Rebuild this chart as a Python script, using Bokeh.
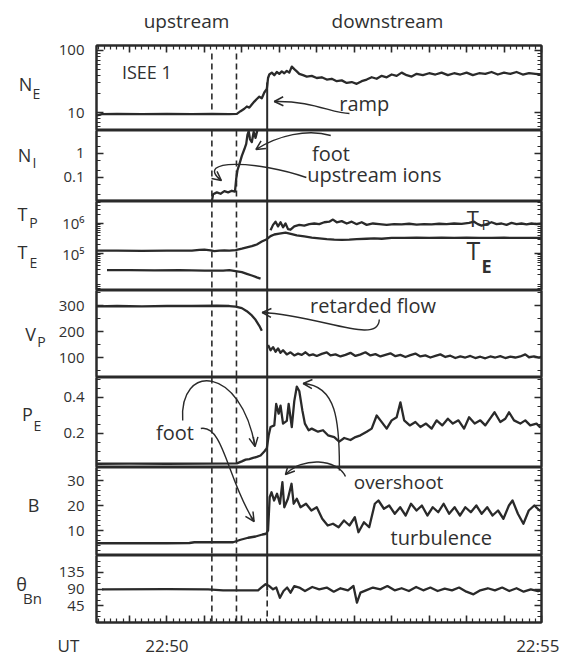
import math
from bokeh.plotting import figure
from bokeh.layouts import column, row
from bokeh.models import Range1d, FixedTicker, LinearAxis, LogAxis, Span, Label, Arrow, OpenHead
from bokeh.embed import file_html
from bokeh.resources import INLINE

FONT = "Open Sans"
INK = "#2a2a2a"
TXT = "#303030"

# ---------------- time axis (seconds after 22:50:00 UT) ----------------
T_START, T_END = -56.4, 300.0
X_MAJOR = list(range(-30, 301, 30))
X_MINOR = [t for t in range(-55, 301, 5) if t % 30 != 0]
X_TICK_LABELS = [(0, "22:50"), (300, "22:55")]
REGION_LABELS = ["upstream", "downstream"]
FOOT_EDGES = [36.0, 55.7]     # dashed lines
RAMP_TIME = 80.3              # solid line

# ---------------- data (time [s], value) ----------------
NE = [(-56, 9.0), (-52, 9.4), (-40, 9.5), (-20, 9.4), (0, 9.5), (20, 9.4), (36, 9.5), (50, 9.4),
      (56, 9.5), (59, 10.5), (62, 11.5), (64, 12.5), (66, 12.0), (68, 13.5), (70, 15.0), (72, 16.5),
      (74, 18.0), (76, 17.0), (78, 21.0), (80, 24.0), (81, 36.0), (82, 41.0), (84, 44.0), (86, 40.0),
      (88, 45.0), (90, 42.0), (92, 46.0), (94, 43.0), (96, 47.0), (98, 44.0), (100, 55.0), (102, 50.0),
      (104, 46.0), (106, 42.0), (109, 40.0), (112, 38.0), (116, 39.0), (120, 36.0), (124, 37.0),
      (128, 34.0), (132, 35.0), (136, 32.0), (140, 33.0), (144, 30.0), (148, 31.0), (152, 29.0),
      (156, 32.0), (160, 34.0), (164, 37.0), (168, 35.0), (172, 39.0), (176, 37.0), (180, 41.0),
      (184, 39.0), (188, 44.0), (192, 40.0), (196, 38.0), (200, 42.0), (205, 40.0), (210, 43.0),
      (215, 41.0), (220, 44.0), (225, 40.0), (230, 43.0), (235, 41.0), (240, 44.0), (245, 40.0),
      (250, 43.0), (255, 42.0), (260, 45.0), (265, 41.0), (270, 44.0), (275, 42.0), (280, 45.0),
      (285, 41.0), (290, 43.0), (295, 42.0), (300, 41.0)]

NI = [(-56, 0.0105), (36, 0.0105), (37, 0.02), (40, 0.024), (43, 0.021), (46, 0.027), (49, 0.024),
      (52, 0.028), (54.5, 0.026), (55.5, 0.09), (56.5, 0.2), (58, 0.35), (60, 0.8), (62, 1.5),
      (63.5, 2.5), (64.5, 6.0), (65.5, 8.5), (66.5, 4.0), (68, 3.0), (69.5, 8.0), (71, 4.5),
      (72.5, 9.5), (74, 12.0)]

TE = [(-56, 1.25e5), (-40, 1.25e5), (-20, 1.22e5), (0, 1.25e5), (20, 1.24e5), (26, 1.32e5),
      (30, 1.35e5), (35, 1.28e5), (38, 1.2e5), (42, 1.25e5), (46, 1.27e5), (50, 1.25e5),
      (55, 1.3e5), (60, 1.45e5), (64, 1.6e5), (68, 1.75e5), (72, 2.0e5), (76, 2.5e5), (80, 3.0e5),
      (83, 3.8e5), (86, 4.3e5), (90, 4.6e5), (95, 5.0e5), (100, 4.4e5), (104, 4.0e5), (110, 3.7e5),
      (116, 3.4e5), (122, 3.2e5), (128, 3.0e5), (134, 2.9e5), (140, 2.85e5), (146, 2.9e5),
      (152, 3.0e5), (160, 3.1e5), (166, 3.2e5), (172, 3.1e5), (180, 3.3e5), (190, 3.3e5),
      (200, 3.35e5), (210, 3.3e5), (220, 3.35e5), (230, 3.3e5), (240, 3.35e5), (250, 3.3e5),
      (260, 3.3e5), (270, 3.35e5), (280, 3.3e5), (290, 3.3e5), (300, 3.3e5)]

TP_UP = [(-48, 2.8e4), (-30, 2.8e4), (-10, 2.75e4), (10, 2.8e4), (30, 2.7e4), (45, 2.7e4),
         (50, 2.8e4), (55, 2.6e4), (60, 2.4e4), (64, 2.1e4), (68, 1.85e4), (72, 1.6e4), (75, 1.45e4)]

TP_DOWN = [(83, 6e5), (85, 9e5), (87, 1.15e6), (89, 8e5), (91, 1.1e6), (93, 7.5e5), (95, 1.0e6),
           (97, 6.5e5), (99, 6.2e5), (102, 8e5), (106, 9e5), (110, 8.5e5), (114, 9.5e5),
           (118, 1.0e6), (122, 9.5e5), (126, 1.1e6), (130, 1.15e6), (133, 1.35e6), (136, 1.1e6),
           (140, 1.2e6), (144, 1.0e6), (148, 1.15e6), (152, 9.5e5), (156, 1.1e6), (160, 9e5),
           (165, 1.0e6), (170, 9.5e5), (176, 9e5), (182, 9.5e5), (188, 9.3e5), (194, 9.8e5),
           (200, 9.2e5), (206, 9.6e5), (212, 9.4e5), (218, 9.8e5), (224, 9.5e5), (230, 1.0e6),
           (236, 9.7e5), (242, 1.05e6), (246, 1.15e6), (249, 9.5e5), (252, 8.5e5), (256, 9.5e5),
           (260, 1.1e6), (264, 9.5e5), (268, 1.0e6), (272, 9e5), (276, 1.05e6), (280, 9.5e5),
           (284, 1.0e6), (288, 9.3e5), (292, 1.0e6), (296, 9.5e5), (300, 9.8e5)]

VP_UP = [(-56, 297), (-40, 298), (-20, 297), (0, 298), (20, 298), (40, 299), (50, 298), (55, 296),
         (60, 290), (64, 278), (68, 262), (71, 245), (74, 222), (76, 203)]

VP_DOWN = [(81, 148), (83, 128), (85, 140), (87, 122), (89, 135), (91, 118), (93, 128), (96, 112),
           (99, 120), (102, 108), (105, 115), (108, 110), (111, 120), (114, 108), (117, 112),
           (120, 106), (124, 114), (128, 120), (131, 108), (135, 112), (139, 104), (143, 110),
           (147, 118), (151, 106), (155, 112), (159, 120), (163, 108), (167, 113), (171, 104),
           (175, 110), (179, 116), (183, 105), (187, 110), (191, 102), (195, 109), (199, 115),
           (203, 104), (207, 108), (211, 100), (215, 106), (219, 112), (223, 102), (227, 107),
           (231, 98), (235, 104), (239, 100), (243, 106), (247, 98), (251, 103), (255, 97),
           (259, 104), (263, 100), (267, 105), (271, 98), (275, 103), (279, 100), (283, 104),
           (287, 112), (290, 101), (294, 104), (298, 100), (300, 102)]

PE = [(-56, 0.032), (-30, 0.033), (0, 0.032), (30, 0.033), (56, 0.034), (60, 0.045), (63, 0.055),
      (66, 0.058), (69, 0.064), (72, 0.07), (75, 0.078), (78, 0.1), (80, 0.118), (81.5, 0.19),
      (83, 0.236), (86, 0.245), (87.5, 0.364), (89.5, 0.31), (91, 0.355), (93, 0.255), (96, 0.27),
      (97.5, 0.364), (100, 0.236), (102, 0.38), (104, 0.46), (106, 0.436), (108.5, 0.327),
      (110.5, 0.255), (113.5, 0.218), (116, 0.227), (121, 0.21), (125, 0.218), (129, 0.19),
      (134, 0.18), (138, 0.155), (142, 0.175), (147, 0.164), (151, 0.18), (155, 0.19), (160, 0.21),
      (164, 0.227), (168, 0.3), (171, 0.273), (176, 0.227), (180, 0.273), (184, 0.29),
      (187, 0.373), (190, 0.273), (194.5, 0.245), (199, 0.264), (203, 0.236), (207.5, 0.255),
      (212, 0.227), (216, 0.273), (220.5, 0.245), (225, 0.282), (229, 0.255), (233.5, 0.273),
      (238, 0.227), (242, 0.29), (246.5, 0.255), (251, 0.273), (255, 0.245), (259.5, 0.29),
      (262.4, 0.318), (267, 0.264), (271, 0.282), (274, 0.318), (278, 0.273), (283, 0.255),
      (287, 0.273), (291, 0.245), (296, 0.255), (298.6, 0.236), (300, 0.24)]

BMAG = [(-56, 4.9), (-30, 4.9), (0, 4.9), (18, 5.0), (22, 5.3), (40, 5.3), (53, 5.3), (59, 6.3),
        (65, 7.1), (71, 7.6), (76.5, 8.4), (79.4, 8.7), (81, 10.0), (82.3, 23.3), (83.8, 25.3),
        (85.8, 22.0), (88.2, 24.7), (90.5, 20.7), (92.5, 29.3), (94, 19.3), (96.9, 22.7),
        (99.8, 28.7), (101.5, 20.7), (104, 22.7), (107, 19.3), (111.4, 20.7), (115.7, 18.0),
        (120, 19.3), (124.4, 14.7), (128.8, 12.0), (133, 12.7), (137.5, 11.3), (141.8, 14.0),
        (146.2, 12.0), (150.5, 15.3), (153.4, 9.3), (157.8, 13.3), (162, 11.3), (166.5, 20.7),
        (169.4, 22.0), (173.8, 18.7), (178, 20.0), (182.5, 16.7), (186.8, 19.3), (191.2, 16.0),
        (195.5, 20.7), (199.9, 18.0), (204.2, 20.0), (208.6, 16.0), (212.9, 19.3), (217.3, 17.3),
        (221.6, 20.7), (226, 16.7), (230.4, 19.3), (234.7, 16.0), (239, 19.3), (243.4, 17.3),
        (247.8, 20.0), (252.1, 16.7), (256.5, 19.3), (260.8, 16.0), (265.2, 18.0), (269.5, 14.7),
        (273.9, 20.0), (276.8, 22.0), (281.1, 16.7), (285.5, 12.7), (289.8, 18.0), (294.2, 20.0),
        (298.5, 18.0), (300, 18.5)]

THETA = [(-52, 89), (0, 89.5), (33, 89), (45, 86.5), (59, 86.5), (73, 86.5), (76, 95), (79, 103),
         (82, 98), (85, 89), (87.6, 94), (90.5, 66), (93.4, 84.5), (96.3, 94), (99, 80), (102, 98),
         (106, 94), (110.6, 84.5), (116.4, 95.4), (122, 89), (128, 94), (133.6, 82.7), (139, 92),
         (145, 86.4), (149.4, 98.2), (152.2, 52.7), (155, 80), (159.4, 86.4), (165, 94), (171, 89),
         (176.6, 98), (182.4, 86.4), (188, 92), (193.8, 84.5), (199.6, 95.4), (205.3, 86.4),
         (211, 94), (216.8, 84.5), (222.5, 91), (228.3, 86.4), (234, 94), (239.8, 82.7),
         (245.5, 75.5), (251, 86.4), (257, 92), (262.7, 86.4), (268.5, 94), (274.2, 84.5),
         (280, 92), (285.7, 82.7), (291.4, 89), (297.2, 84.5), (300, 86)]

# ---------------- panels ----------------
# (log?, range, major ticks, minor ticks, tick label overrides, frame height)
LOGDEC = lambda decs: [m * 10 ** d for d in decs for m in range(2, 10)]
PANELS = [
    (True, (5.126, 120.4), [10, 100], [6, 7, 8, 9] + LOGDEC([1]), {10: "10", 100: "100"}, 85),
    (True, (0.01, 9.08), [0.1, 1], [0.02, 0.05, 0.2, 0.5, 2, 5], {0.1: "0.1", 1: "1"}, 71),
    (True, (5845.0, 5.41e6), [1e5, 1e6], [6e3, 7e3, 8e3, 9e3] + LOGDEC([4, 5]) + [2e6, 3e6, 4e6, 5e6],
     {1e5: "10⁵", 1e6: "10⁶"}, 89),
    (False, (23.1, 357.7), [100, 200, 300], [50, 150, 250, 350], None, 87),
    (False, (0.0111, 0.5111), [0.2, 0.4], [0.05, 0.1, 0.15, 0.25, 0.3, 0.35, 0.45, 0.5], None, 90),
    (False, (0.0, 35.2), [10, 20, 30], [t for t in range(2, 36, 2) if t % 10], None, 88),
    (False, (-1.3, 181.3), [45, 90, 135], [15, 30, 60, 75, 105, 120, 150, 165], None, 67),
]
REF_EDGES = [45, 130, 201, 290, 377, 467, 555, 622]   # panel edges (page px)

STRIP_W = 52
PW = 508                 # panel figure width
BL, BR = 44, 19          # frame from x=96 to x=541
HEAD_H, TOP_B, BOT_B, FOOT_H = 33, 12, 4, 32
PX_PER_S = 445.0 / (T_END - T_START)
xr = Range1d(T_START, T_END)


def style_axis(ax, ticks=None):
    ax.axis_line_color = INK
    ax.axis_line_width = 2
    ax.major_tick_in = 7
    ax.major_tick_out = 0
    ax.minor_tick_in = 4
    ax.minor_tick_out = 0
    ax.major_tick_line_color = INK
    ax.major_tick_line_width = 1.6
    ax.minor_tick_line_color = INK
    ax.minor_tick_line_width = 1.2
    ax.major_label_text_font = FONT
    ax.major_label_text_font_size = "15px"
    ax.major_label_text_color = TXT
    ax.major_label_standoff = 12
    if ticks is not None:          # axis without visible labels
        ax.major_label_overrides = {t: "" for t in ticks}
        ax.major_label_standoff = 0
        ax.major_label_text_font_size = "1px"


def blank(w, h, xrange_, yrange_):
    p = figure(width=w, height=h, x_range=xrange_, y_range=yrange_, x_axis_location=None,
               y_axis_location=None, output_backend="svg", toolbar_location=None,
               min_border_left=0, min_border_right=0, min_border_top=0, min_border_bottom=0)
    p.grid.visible = False
    p.outline_line_color = None
    p.background_fill_color = "white"
    p.border_fill_color = "white"
    return p


figs = []
n = len(PANELS)
for i, (is_log, rng, major, minor, overrides, h) in enumerate(PANELS):
    tb = TOP_B if i == 0 else 0
    bb = BOT_B if i == n - 1 else 0
    xloc = "above" if i == 0 else ("below" if i == n - 1 else None)
    p = figure(width=PW, height=h + tb + bb, x_range=xr, y_range=Range1d(*rng),
               y_axis_type="log" if is_log else "linear", x_axis_location=xloc,
               output_backend="svg", toolbar_location=None,
               min_border_left=BL, min_border_right=BR, min_border_top=tb, min_border_bottom=bb)
    p.grid.visible = False
    p.outline_line_color = INK
    p.outline_line_width = 2
    p.background_fill_color = "white"
    p.border_fill_color = "white"
    ya = p.yaxis[0]
    ya.ticker = FixedTicker(ticks=major, minor_ticks=minor)
    style_axis(ya)
    if overrides:
        ya.major_label_overrides = overrides
    ra = (LogAxis if is_log else LinearAxis)(ticker=FixedTicker(ticks=major, minor_ticks=minor))
    style_axis(ra, ticks=major)
    p.add_layout(ra, "right")
    if xloc:
        xa = p.xaxis[0]
        xa.ticker = FixedTicker(ticks=X_MAJOR, minor_ticks=X_MINOR)
        style_axis(xa, ticks=X_MAJOR)
    figs.append(p)

TOTAL_H = HEAD_H + sum(f.height for f in figs) + FOOT_H
header = blank(STRIP_W + PW, HEAD_H, Range1d(0, STRIP_W + PW), Range1d(HEAD_H, 0))
strip = blank(STRIP_W, TOTAL_H - HEAD_H - FOOT_H, Range1d(0, STRIP_W),
              Range1d(TOTAL_H - FOOT_H, HEAD_H))
foot_lo = T_START - 96 / PX_PER_S
footer = blank(STRIP_W + PW, FOOT_H, Range1d(foot_lo, foot_lo + (STRIP_W + PW) / PX_PER_S),
               Range1d(TOTAL_H, TOTAL_H - FOOT_H))


def rx(xr_, yr_):
    left = 100.0 - 8.0 * (yr_ - 45.0) / 577.0
    return T_START + (xr_ - left) / PX_PER_S


def ry(i, yr_):
    top, bot = REF_EDGES[i], REF_EDGES[i + 1]
    lo, hi = PANELS[i][1]
    f = (bot - yr_) / (bot - top)
    if PANELS[i][0]:
        return 10 ** (math.log10(lo) + f * (math.log10(hi) - math.log10(lo)))
    return lo + f * (hi - lo)


def put(p, s, x, y, size, align="center", baseline="middle", bold=False, x_offset=0):
    lab = Label(x=x, y=y, text=s, text_font=FONT, text_font_size=f"{size}px", text_align=align,
                text_baseline=baseline, text_color=TXT, x_offset=x_offset)
    if bold:
        lab.text_font_style = "bold"
    p.add_layout(lab)


def text(i, s, x, y, size, **kw):
    put(figs[i], s, rx(x, y), ry(i, y), size, **kw)


def curve(panel_ids, pts, head_panel=None):
    (x0, y0), (x1, y1), (x2, y2), (x3, y3) = pts
    for i in panel_ids:
        figs[i].bezier(x0=[rx(x0, y0)], y0=[ry(i, y0)], x1=[rx(x3, y3)], y1=[ry(i, y3)],
                       cx0=[rx(x1, y1)], cy0=[ry(i, y1)], cx1=[rx(x2, y2)], cy1=[ry(i, y2)],
                       line_color=INK, line_width=1.4)
    if head_panel is not None:
        bx, by = x3 - 0.12 * (x3 - x2), y3 - 0.12 * (y3 - y2)
        figs[head_panel].add_layout(Arrow(
            end=OpenHead(size=9, line_color=INK, line_width=1.5),
            x_start=rx(bx, by), y_start=ry(head_panel, by), x_end=rx(x3, y3), y_end=ry(head_panel, y3),
            line_color=INK, line_width=1.4))


def series(i, data):
    figs[i].line([d[0] for d in data], [d[1] for d in data], line_color=INK, line_width=2.3,
                 line_join="round")


# data lines
series(0, NE)
series(1, NI)
series(2, TE)
series(2, TP_UP)
series(2, TP_DOWN)
series(3, VP_UP)
series(3, VP_DOWN)
series(4, PE)
series(5, BMAG)
series(6, THETA)

# vertical marker lines
for i in range(n):
    p = figs[i]
    for t in FOOT_EDGES:
        if i == 0:
            p.segment(x0=[t], y0=[ry(0, 53)], x1=[t], y1=[ry(0, 112)], line_color=INK,
                      line_width=1.6, line_dash="6 4")
        else:
            p.add_layout(Span(location=t, dimension="height", line_color=INK, line_width=1.6,
                              line_dash="6 4"))
    if i == 0:
        p.segment(x0=[RAMP_TIME], y0=[ry(0, 82)], x1=[RAMP_TIME], y1=[ry(0, 132)],
                  line_color=INK, line_width=2)
    elif i == n - 1:
        p.segment(x0=[RAMP_TIME], y0=[ry(i, 550)], x1=[RAMP_TIME], y1=[ry(i, 590)],
                  line_color=INK, line_width=2)
        p.segment(x0=[RAMP_TIME], y0=[ry(i, 590)], x1=[RAMP_TIME], y1=[ry(i, 625)],
                  line_color=INK, line_width=1.6, line_dash="6 4")
    else:
        p.add_layout(Span(location=RAMP_TIME, dimension="height", line_color=INK, line_width=2))

# header (page px)
put(header, REGION_LABELS[0], 186, 20, 19)
put(header, REGION_LABELS[1], 387, 20, 19)

# y-axis names (page px)
for s, x, y, size in [("N", 25, 83, 18), ("E", 36, 93, 14), ("N", 24, 154, 18), ("I", 34, 162, 14),
                      ("T", 22, 213, 18), ("P", 33, 222, 14), ("T", 22, 251, 18), ("E", 33, 262, 14),
                      ("V", 30, 333, 18), ("P", 41, 341, 14), ("P", 27, 413, 18), ("E", 37, 425, 14),
                      ("B", 33, 504, 18), ("θ", 21, 583, 18), ("Bn", 32, 597, 15)]:
    put(strip, s, x, y, size)

# bottom time labels
put(footer, "UT", T_START + (68 - 96) / PX_PER_S, 645, 17)
put(footer, X_TICK_LABELS[0][1], X_TICK_LABELS[0][0], 645, 17)
put(footer, X_TICK_LABELS[1][1], X_TICK_LABELS[1][0], 645, 17, align="right", x_offset=18)

# annotations inside the panels (page px positions)
text(0, "ISEE 1", 150, 71, 18)
text(0, "ramp", 367, 103, 20)
curve([0], [(352, 113), (335, 113), (315, 100), (277, 101)], head_panel=0)

text(1, "foot", 333, 153, 20)
curve([1], [(333, 135), (310, 128), (280, 135), (258, 149)], head_panel=1)
text(1, "upstream ions", 376, 174, 20)
curve([1], [(308, 177), (260, 160), (195, 158), (223, 180)], head_panel=1)

text(2, "T", 474, 217, 22)
text(2, "P", 487, 223, 15)
text(2, "T", 474, 249, 25)
text(2, "E", 487, 265, 18, bold=True)

text(3, "retarded flow", 373, 305, 20)
curve([3], [(379, 319), (378, 345), (320, 315), (262, 312)], head_panel=3)

text(4, "foot", 173, 432, 20)
curve([4], [(181, 420), (178, 362), (240, 365), (253, 446)], head_panel=4)
curve([4, 5], [(199, 428), (222, 424), (225, 480), (251, 521)], head_panel=5)

text(5, "overshoot", 396, 481, 19)
curve([4, 5], [(343, 476), (335, 458), (300, 456), (283, 474)], head_panel=5)
curve([4, 5], [(337, 470), (338, 420), (335, 385), (302, 383)], head_panel=4)
text(5, "turbulence", 438, 537, 20)

layout = column(header, row(strip, column(*figs, spacing=0), spacing=0), footer, spacing=0)
open("out.html", "w").write(file_html(layout, INLINE))
